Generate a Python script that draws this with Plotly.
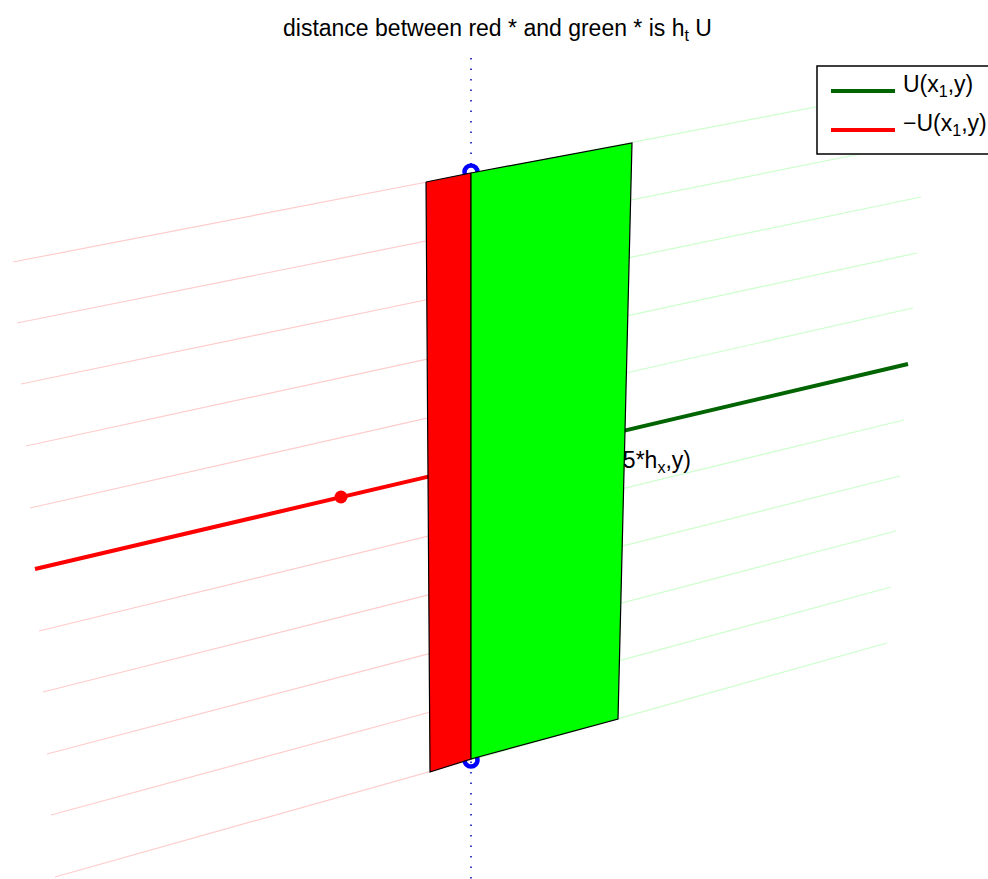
import plotly.graph_objects as go

# Projected mesh lines of the surface (screen units, y grows downward)
mesh_left_x = [13, 17, 21, 26, 30, 35, 39, 43, 47, 51, 55]
mesh_left_y = [262, 323, 384, 446, 508, 569, 631, 692, 754, 815, 877]
mesh_right_x = [929, 925, 921, 917, 913, 908, 904, 900, 896, 891, 887]
mesh_right_y = [85, 141, 197, 253, 308, 364, 420, 476, 531, 587, 643]
highlight_row = 5          # the row drawn as a thick line
x1_screen = 471            # where -U meets U

# Panels (flux faces) around x1
red_panel_x = [426, 471, 471, 430]
red_panel_y = [182, 173, 759, 772]
green_panel_x = [471, 632, 618, 471]
green_panel_y = [173, 143, 719, 759]

# Marker positions
red_dot = (341, 497)
blue_circles_x = [471, 471]
blue_circles_y = [172, 760]
axis_line_x = [471, 471]
axis_line_y = [58, 879]

label_hidden = "U(x<sub>1</sub>+0.5*h<sub>x</sub>,y)"
title_text = "distance between red * and green * is h<sub>t</sub> U"
legend_labels = ["U(x<sub>1</sub>,y)", "\u2212U(x<sub>1</sub>,y)"]

FONT = "Liberation Sans, Arial, Helvetica, sans-serif"
FS = 23
FAINT_RED = "#ffcccc"
FAINT_GREEN = "#ccffcc"
DARK_GREEN = "#006400"

fig = go.Figure()


def split_point(i):
    xl, yl = mesh_left_x[i], mesh_left_y[i]
    xr, yr = mesh_right_x[i], mesh_right_y[i]
    t = (x1_screen - xl) / (xr - xl)
    return x1_screen, yl + t * (yr - yl)


# faint mesh rows
for i in range(len(mesh_left_x)):
    if i == highlight_row:
        continue
    xm, ym = split_point(i)
    fig.add_trace(go.Scatter(x=[mesh_left_x[i], xm], y=[mesh_left_y[i], ym],
                             mode="lines", line=dict(color=FAINT_RED, width=1.2)))
    fig.add_trace(go.Scatter(x=[xm, mesh_right_x[i]], y=[ym, mesh_right_y[i]],
                             mode="lines", line=dict(color=FAINT_GREEN, width=1.2)))

# highlighted row: -U on the left, U on the right
i = highlight_row
xm, ym = split_point(i)
fig.add_trace(go.Scatter(x=[mesh_left_x[i], xm], y=[mesh_left_y[i], ym],
                         mode="lines", line=dict(color="#ff0000", width=4)))
fig.add_trace(go.Scatter(x=[xm, mesh_right_x[i]], y=[ym, mesh_right_y[i]],
                         mode="lines", line=dict(color=DARK_GREEN, width=4)))

# red sample point
fig.add_trace(go.Scatter(x=[red_dot[0]], y=[red_dot[1]], mode="markers",
                         marker=dict(color="#ff0000", size=13, line=dict(width=0))))

# vertical dotted line through x1
fig.add_trace(go.Scatter(x=axis_line_x, y=axis_line_y, mode="lines",
                         line=dict(color="#0000b4", width=1.5, dash="1.5px,9px")))

# blue end circles
fig.add_trace(go.Scatter(x=blue_circles_x, y=blue_circles_y, mode="markers",
                         marker=dict(symbol="circle-open", size=13, color="#0000ff",
                                     line=dict(width=4.5, color="#0000ff"))))

# label sitting behind the green panel
fig.add_trace(go.Scatter(x=[691], y=[462], mode="text", text=[label_hidden],
                         textposition="middle left",
                         textfont=dict(family=FONT, size=FS, color="black")))

# panels drawn last so they hide what is behind them
fig.add_trace(go.Scatter(x=red_panel_x + [red_panel_x[0]], y=red_panel_y + [red_panel_y[0]],
                         mode="lines", fill="toself", fillcolor="#ff0000",
                         line=dict(color="black", width=1.2)))
fig.add_trace(go.Scatter(x=green_panel_x + [green_panel_x[0]], y=green_panel_y + [green_panel_y[0]],
                         mode="lines", fill="toself", fillcolor="#00ff00",
                         line=dict(color="black", width=1.2)))

# legend box
shapes = [
    dict(type="rect", x0=817, x1=992, y0=66, y1=154, xref="x", yref="y",
         line=dict(color="black", width=1.5), fillcolor="white", layer="above"),
    dict(type="line", x0=831, x1=895, y0=91, y1=91, xref="x", yref="y",
         line=dict(color=DARK_GREEN, width=4), layer="above"),
    dict(type="line", x0=831, x1=895, y0=130, y1=130, xref="x", yref="y",
         line=dict(color="#ff0000", width=4), layer="above"),
]

annotations = [
    dict(x=497, y=29, xref="x", yref="y", text=title_text, showarrow=False,
         font=dict(family=FONT, size=FS, color="black"), xanchor="center", yanchor="middle"),
    dict(x=901, y=85, xref="x", yref="y", text=legend_labels[0], showarrow=False,
         font=dict(family=FONT, size=FS, color="black"), xanchor="left", yanchor="middle"),
    dict(x=901, y=124, xref="x", yref="y", text=legend_labels[1], showarrow=False,
         font=dict(family=FONT, size=FS, color="black"), xanchor="left", yanchor="middle"),
]

fig.update_layout(
    width=988, height=879,
    margin=dict(l=0, r=0, t=0, b=0),
    paper_bgcolor="white", plot_bgcolor="white",
    showlegend=False, hovermode=False,
    xaxis=dict(range=[0, 988], visible=False, fixedrange=True),
    yaxis=dict(range=[879, 0], visible=False, fixedrange=True),
    shapes=shapes, annotations=annotations,
)

fig.write_html("out.html")
